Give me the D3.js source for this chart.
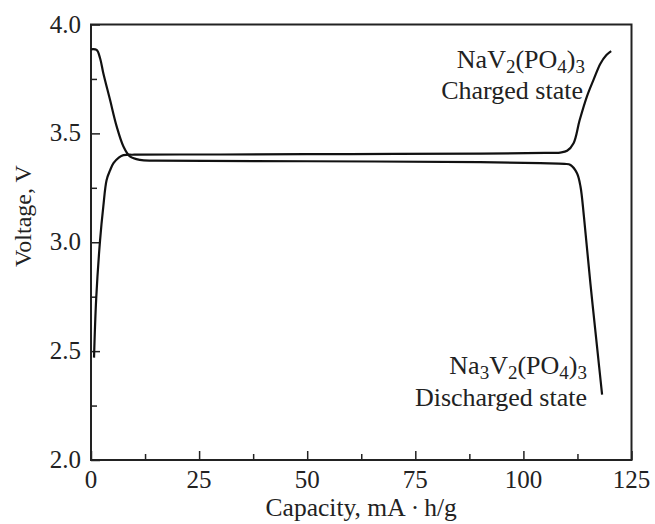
<!DOCTYPE html>
<html>
<head>
<meta charset="utf-8">
<script src="https://cdn.jsdelivr.net/npm/d3@7"></script>
<style>
  body { margin: 0; background: #fff; }
  text { font-family: "Liberation Serif", "Times New Roman", serif; fill: #222; }
</style>
</head>
<body>
<script>
var w = 655; // page width
var h = 524; // page height
var margin = { top: 24.5, right: 23.5, bottom: 64, left: 91 };

// charge curve (NaV2(PO4)3 side)
var capCharge = [0.7, 1.2, 2.1, 2.85, 3.6, 4.4, 5.2, 6.5, 7.5, 10, 30, 60, 90, 105, 108.5, 110.1, 111.6, 113, 114.7, 116.3, 117.8, 119.2, 120.3];
var voltCharge = [2.47, 2.74, 3.01, 3.165, 3.285, 3.33, 3.363, 3.39, 3.40, 3.402, 3.403, 3.405, 3.407, 3.41, 3.412, 3.42, 3.455, 3.56, 3.67, 3.75, 3.82, 3.86, 3.878];

// discharge curve
var capDischarge = [0, 1.3, 2.1, 2.85, 4.4, 5.95, 7.5, 9.0, 11.3, 15, 50, 90, 103.9, 109.5, 110.9, 112.4, 113.2, 114, 115.5, 117.1, 118.2];
var voltDischarge = [3.886, 3.883, 3.845, 3.776, 3.654, 3.531, 3.44, 3.394, 3.378, 3.375, 3.372, 3.368, 3.363, 3.36, 3.355, 3.317, 3.256, 3.118, 2.81, 2.507, 2.30];

var xTicks = [0, 25, 50, 75, 100, 125];
var xMinor = [12.5, 37.5, 62.5, 87.5, 112.5];
var yTicks = [2.0, 2.5, 3.0, 3.5, 4.0];
var yMinor = [2.25, 2.75, 3.25, 3.75];

var svg = d3.select("body").append("svg").attr("width", w).attr("height", h);

var x = d3.scaleLinear().domain([0, 125]).range([margin.left, w - margin.right]);
var y = d3.scaleLinear().domain([2, 4]).range([h - margin.bottom, margin.top]);

// frame
svg.append("rect")
  .attr("x", x(0)).attr("y", y(4))
  .attr("width", x(125) - x(0)).attr("height", y(2) - y(4))
  .attr("fill", "none").attr("stroke", "#222").attr("stroke-width", 2);

// ticks pointing inward
var xAxis = svg.append("g").attr("transform", "translate(0," + y(2) + ")");
xAxis.call(d3.axisTop(x).tickValues(xTicks).tickSize(9).tickFormat(""));
xAxis.append("g").call(d3.axisTop(x).tickValues(xMinor).tickSize(6).tickFormat(""));
xAxis.selectAll(".domain").remove();
xAxis.selectAll("line").attr("stroke", "#222").attr("stroke-width", 1.5);

var yAxis = svg.append("g").attr("transform", "translate(" + x(0) + ",0)");
yAxis.call(d3.axisRight(y).tickValues(yTicks).tickSize(9).tickFormat(""));
yAxis.append("g").call(d3.axisRight(y).tickValues(yMinor).tickSize(6).tickFormat(""));
yAxis.selectAll(".domain").remove();
yAxis.selectAll("line").attr("stroke", "#222").attr("stroke-width", 1.5);

// tick labels
svg.selectAll(".xlab").data(xTicks).enter().append("text")
  .attr("x", function (d) { return x(d); })
  .attr("y", y(2) + 28)
  .attr("text-anchor", "middle").attr("font-size", 25)
  .text(function (d) { return d; });

svg.selectAll(".ylab").data(yTicks).enter().append("text")
  .attr("x", x(0) - 10)
  .attr("y", function (d) { return y(d) + 8; })
  .attr("text-anchor", "end").attr("font-size", 25)
  .text(function (d) { return d.toFixed(1); });

// axis titles
svg.append("text")
  .attr("x", (x(0) + x(125)) / 2).attr("y", 516)
  .attr("text-anchor", "middle").attr("font-size", 25.5)
  .text("Capacity, mA\u2009\u00b7\u2009h/g");

svg.append("text")
  .attr("transform", "translate(31,216) rotate(-90)")
  .attr("text-anchor", "middle").attr("font-size", 24)
  .text("Voltage, V");

// curves
var line = d3.line()
  .x(function (d) { return x(d[0]); })
  .y(function (d) { return y(d[1]); })
  .curve(d3.curveCatmullRom.alpha(0.5));

svg.append("path")
  .datum(d3.zip(capCharge, voltCharge))
  .attr("d", line).attr("fill", "none").attr("stroke", "#111").attr("stroke-width", 2.2);

svg.append("path")
  .datum(d3.zip(capDischarge, voltDischarge))
  .attr("d", line).attr("fill", "none").attr("stroke", "#111").attr("stroke-width", 2.2);

// formula labels, subscripts via baseline-shift
function formula(parts, px, py) {
  var t = svg.append("text").attr("x", px).attr("y", py)
    .attr("text-anchor", "end").attr("font-size", 26);
  parts.forEach(function (p) {
    var s = t.append("tspan").text(p[0]);
    if (p[1]) s.attr("font-size", 19).attr("baseline-shift", -5);
  });
}

formula([["NaV"], ["2", true], ["(PO"], ["4", true], [")"], ["3", true]], 585, 68);
svg.append("text").attr("x", 583).attr("y", 99)
  .attr("text-anchor", "end").attr("font-size", 26).text("Charged state");

formula([["Na"], ["3", true], ["V"], ["2", true], ["(PO"], ["4", true], [")"], ["3", true]], 587, 374);
svg.append("text").attr("x", 587).attr("y", 406)
  .attr("text-anchor", "end").attr("font-size", 26).text("Discharged state");
</script>
</body>
</html>
